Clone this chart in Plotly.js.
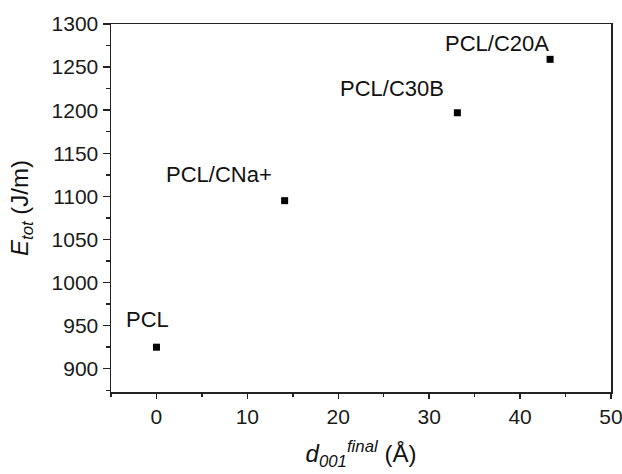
<!DOCTYPE html>
<html>
<head>
<meta charset="utf-8">
<script src="https://cdn.plot.ly/plotly-3.0.1.min.js"></script>
<style>html,body{margin:0;padding:0;background:#fff;}#chart{width:622px;height:474px;}</style>
</head>
<body>
<div id="chart"></div>
<script>
const samples = ["PCL", "PCL/CNa+", "PCL/C30B", "PCL/C20A"];
const d001 = [0, 14.1, 33.1, 43.3];
const etot = [925, 1095, 1197, 1259];
const labelShiftX = [-9, -66, -65, -53];
const labelShiftY = [28, 26, 24, 16];

const FONT = "Liberation Sans, Arial, sans-serif";

const trace = {
  x: d001, y: etot, mode: "markers", type: "scatter",
  marker: {symbol: "square", size: 7, color: "#000"},
  hoverinfo: "skip", showlegend: false
};

const annotations = samples.map((s, i) => ({
  x: d001[i], y: etot[i], xref: "x", yref: "y", text: s, showarrow: false,
  xshift: labelShiftX[i], yshift: labelShiftY[i],
  font: {family: FONT, size: 22, color: "#111"}
}));

const axisCommon = {
  showgrid: false, zeroline: false, showline: true, mirror: true,
  linecolor: "#222", linewidth: 1.5, ticks: "outside", tickcolor: "#222",
  tickwidth: 1.5, tickfont: {family: FONT, size: 21, color: "#1a1a1a"},
  automargin: false, ticklabeloverflow: "allow"
};

const layout = {
  width: 622, height: 474,
  margin: {l: 111, r: 11, t: 24, b: 82},
  paper_bgcolor: "#fff", plot_bgcolor: "#fff",
  xaxis: Object.assign({}, axisCommon, {
    range: [-5, 50], dtick: 10, tick0: 0, ticklen: 5,
    minor: {dtick: 5, ticks: "outside", ticklen: 3, tickcolor: "#222", tickwidth: 1.5},
    title: {text: "<i>d</i><sub><i>001</i></sub><sup><i>final</i></sup> (Å)", font: {family: FONT, size: 24, color: "#111"}, standoff: 18}
  }),
  yaxis: Object.assign({}, axisCommon, {
    range: [873, 1300], dtick: 50, tick0: 900, ticklen: 7,
    minor: {dtick: 25, ticks: "outside", ticklen: 4, tickcolor: "#222", tickwidth: 1.5},
    title: {text: "<i>E</i><sub><i>tot</i></sub> (J/m)", font: {family: FONT, size: 24, color: "#111"}, standoff: 16}
  }),
  annotations: annotations
};

Plotly.newPlot("chart", [trace], layout, {displayModeBar: false, staticPlot: true});
</script>
</body>
</html>
